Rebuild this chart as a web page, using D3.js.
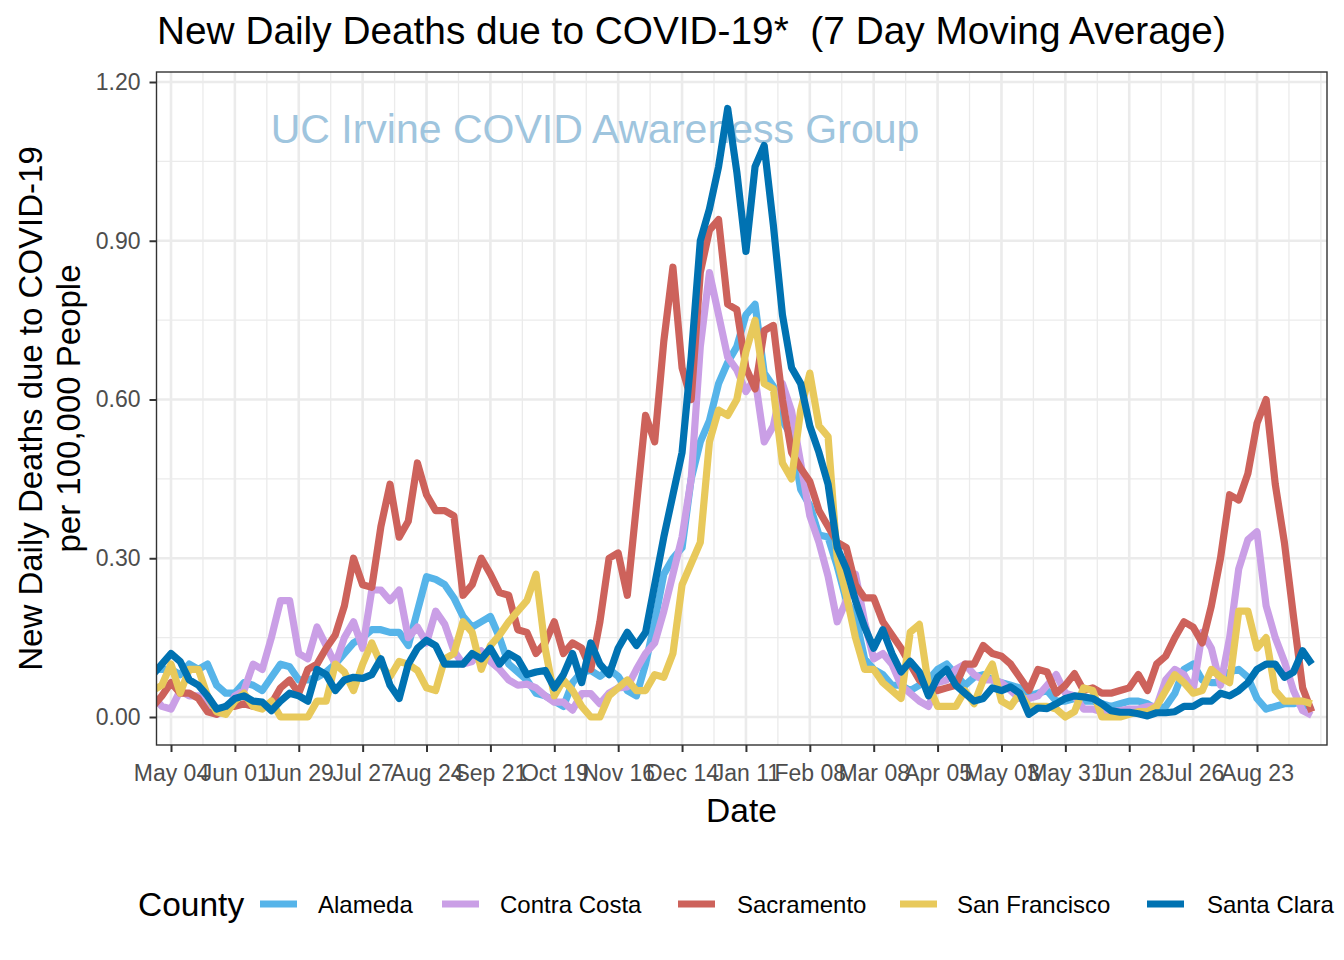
<!DOCTYPE html>
<html><head><meta charset="utf-8">
<script src="https://cdn.jsdelivr.net/npm/d3@7"></script>
<style>
body{margin:0;background:#fff}
svg{display:block}
text{font-family:"Liberation Sans",Arial,Helvetica,sans-serif}
</style>
</head><body>
<svg id="chart" width="1344" height="960"></svg>
<script>
// ---------------- data ----------------
const counties = ["Alameda","Contra Costa","Sacramento","San Francisco","Santa Clara"];
const countyColors = ["#56B4E9","#CA9FE6","#CD625B","#E8C95B","#0072B2"];
const firstDate = "2020-04-26";   // first sample
const stepDays = 4;               // samples every 4 days
const tickDates = ["2020-05-04","2020-06-01","2020-06-29","2020-07-27","2020-08-24","2020-09-21",
  "2020-10-19","2020-11-16","2020-12-14","2021-01-11","2021-02-08","2021-03-08","2021-04-05",
  "2021-05-03","2021-05-31","2021-06-28","2021-07-26","2021-08-23"];
const yTicks = [0, 0.3, 0.6, 0.9, 1.2];
const yMinor = [0.15, 0.45, 0.75, 1.05];

const alameda = [
0.09,0.09,0.09,0.08,0.1,0.09,0.1,0.06,0.045,0.045,
0.065,0.06,0.05,0.075,0.1,0.095,0.07,0.07,0.075,0.085,
0.1,0.12,0.14,0.15,0.165,0.165,0.16,0.16,0.135,0.2,
0.265,0.26,0.25,0.225,0.19,0.17,0.18,0.19,0.15,0.1,
0.085,0.07,0.045,0.04,0.03,0.02,0.065,0.085,0.088,0.077,
0.09,0.077,0.05,0.04,0.1,0.18,0.27,0.3,0.32,0.45,
0.52,0.56,0.63,0.67,0.7,0.76,0.78,0.65,0.625,0.56,
0.53,0.43,0.4,0.344,0.34,0.285,0.22,0.19,0.11,0.09,
0.08,0.06,0.06,0.05,0.06,0.07,0.09,0.1,0.08,0.06,
0.075,0.08,0.07,0.065,0.06,0.055,0.04,0.045,0.05,0.03,
0.03,0.035,0.03,0.03,0.025,0.02,0.025,0.03,0.03,0.025,
0.015,0.02,0.045,0.09,0.1,0.07,0.065,0.065,0.085,0.09,
0.075,0.035,0.015,0.02,0.025,0.025,0.03,0.013];

const contraCosta = [
0.04,0.02,0.015,0.05,0.04,0.04,0.02,0.005,0.01,0.04,
0.05,0.1,0.09,0.15,0.22,0.22,0.12,0.11,0.17,0.135,
0.1,0.15,0.18,0.13,0.24,0.24,0.22,0.24,0.15,0.17,
0.14,0.2,0.175,0.125,0.1,0.105,0.125,0.105,0.09,0.07,
0.06,0.062,0.055,0.04,0.028,0.028,0.013,0.044,0.044,0.025,
0.045,0.055,0.057,0.09,0.12,0.14,0.2,0.27,0.34,0.45,
0.7,0.84,0.76,0.68,0.656,0.615,0.64,0.52,0.55,0.63,
0.578,0.48,0.38,0.33,0.266,0.18,0.22,0.27,0.18,0.11,
0.12,0.1,0.06,0.045,0.03,0.02,0.065,0.07,0.09,0.1,
0.08,0.07,0.07,0.065,0.05,0.035,0.035,0.04,0.06,0.08,
0.045,0.04,0.015,0.015,0.01,0.01,0.012,0.015,0.015,0.02,
0.02,0.07,0.09,0.08,0.05,0.16,0.13,0.06,0.15,0.28,
0.335,0.35,0.21,0.15,0.105,0.05,0.012,0.003];

const sacramento = [
0.02,0.04,0.065,0.045,0.045,0.035,0.01,0.005,0.02,0.02,
0.025,0.02,0.02,0.025,0.055,0.07,0.045,0.09,0.1,0.13,
0.155,0.21,0.3,0.25,0.245,0.36,0.44,0.34,0.37,0.48,
0.42,0.39,0.39,0.38,0.23,0.25,0.3,0.27,0.235,0.23,
0.165,0.16,0.12,0.14,0.18,0.12,0.14,0.13,0.09,0.18,
0.3,0.31,0.23,0.4,0.57,0.52,0.71,0.85,0.66,0.6,
0.84,0.92,0.94,0.78,0.77,0.66,0.62,0.73,0.74,0.6,
0.5,0.47,0.445,0.39,0.36,0.33,0.32,0.25,0.225,0.225,
0.18,0.155,0.13,0.1,0.07,0.055,0.05,0.055,0.06,0.1,
0.1,0.135,0.12,0.115,0.1,0.075,0.05,0.09,0.085,0.045,
0.06,0.082,0.05,0.055,0.045,0.045,0.05,0.055,0.08,0.05,
0.1,0.115,0.15,0.18,0.17,0.14,0.21,0.3,0.42,0.41,
0.46,0.555,0.6,0.44,0.33,0.19,0.055,0.01];

const sanFrancisco = [
0.05,0.06,0.1,0.045,0.09,0.09,0.04,0.01,0.005,0.03,
0.045,0.02,0.015,0.03,0.0,0.0,0.0,0.0,0.03,0.03,
0.1,0.085,0.05,0.1,0.14,0.1,0.076,0.105,0.1,0.088,
0.055,0.05,0.11,0.12,0.18,0.16,0.09,0.135,0.155,0.18,
0.2,0.22,0.27,0.13,0.04,0.07,0.05,0.02,0.0,0.0,
0.04,0.055,0.07,0.05,0.05,0.08,0.075,0.12,0.25,0.29,
0.33,0.52,0.58,0.57,0.6,0.69,0.75,0.63,0.62,0.48,
0.45,0.58,0.65,0.55,0.53,0.3,0.23,0.15,0.09,0.09,
0.065,0.05,0.035,0.16,0.175,0.06,0.02,0.02,0.02,0.05,
0.025,0.07,0.1,0.03,0.02,0.045,0.02,0.02,0.02,0.015,
0.0,0.01,0.055,0.05,0.0,0.0,0.0,0.005,0.01,0.01,
0.02,0.05,0.08,0.065,0.045,0.05,0.09,0.075,0.065,0.2,
0.2,0.13,0.15,0.05,0.03,0.03,0.03,0.025];

const santaClara = [
0.08,0.1,0.12,0.105,0.07,0.06,0.04,0.015,0.02,0.035,
0.04,0.03,0.028,0.012,0.03,0.045,0.04,0.03,0.09,0.08,
0.05,0.07,0.075,0.073,0.08,0.11,0.06,0.035,0.1,0.13,
0.145,0.135,0.1,0.1,0.1,0.12,0.11,0.13,0.1,0.12,
0.11,0.08,0.085,0.088,0.055,0.08,0.12,0.065,0.14,0.1,
0.08,0.13,0.16,0.135,0.16,0.25,0.34,0.42,0.5,0.68,
0.9,0.96,1.04,1.15,1.03,0.88,1.04,1.08,0.93,0.76,
0.66,0.63,0.55,0.5,0.44,0.32,0.28,0.22,0.17,0.13,
0.165,0.12,0.085,0.105,0.085,0.04,0.075,0.09,0.06,0.045,
0.03,0.035,0.055,0.05,0.057,0.045,0.005,0.017,0.016,0.025,
0.035,0.04,0.038,0.035,0.025,0.012,0.009,0.009,0.006,0.002,
0.008,0.008,0.01,0.02,0.02,0.03,0.03,0.045,0.04,0.05,
0.065,0.09,0.1,0.1,0.075,0.085,0.125,0.1];

const seriesValues = [alameda, contraCosta, sacramento, sanFrancisco, santaClara];

// ---------------- layout ----------------
const svg = d3.select("#chart");
const P = {l:156.5, r:1327, t:72, b:745};
const parse = d3.utcParse("%Y-%m-%d");
const ticks = tickDates.map(parse);
const start = parse(firstDate);
const dates = alameda.map((_, i) => d3.utcDay.offset(start, i * stepDays));

const x = d3.scaleUtc().domain([ticks[0], ticks[ticks.length-1]]).range([171, 1257]);
const y = d3.scaleLinear().domain([0, 1.2]).range([717, 82]);

svg.append("rect").attr("width",1344).attr("height",960).attr("fill","#fff");

svg.append("defs").append("clipPath").attr("id","clip")
  .append("rect").attr("x",P.l).attr("y",P.t).attr("width",P.r-P.l).attr("height",P.b-P.t);

const grid = svg.append("g").attr("clip-path","url(#clip)");
const minorX = [d3.utcDay.offset(ticks[0], -14)].concat(ticks.map(t => d3.utcDay.offset(t, 14)))
  .concat([d3.utcDay.offset(ticks[ticks.length-1], 28)]);
grid.selectAll(".mx").data(minorX).join("line")
  .attr("x1",d=>x(d)).attr("x2",d=>x(d)).attr("y1",P.t).attr("y2",P.b)
  .attr("stroke","#EBEBEB").attr("stroke-width",1.3);
grid.selectAll(".my").data(yMinor).join("line")
  .attr("x1",P.l).attr("x2",P.r).attr("y1",d=>y(d)).attr("y2",d=>y(d))
  .attr("stroke","#EBEBEB").attr("stroke-width",1.3);
grid.selectAll(".Mx").data(ticks).join("line")
  .attr("x1",d=>x(d)).attr("x2",d=>x(d)).attr("y1",P.t).attr("y2",P.b)
  .attr("stroke","#EBEBEB").attr("stroke-width",2.6);
grid.selectAll(".My").data(yTicks).join("line")
  .attr("x1",P.l).attr("x2",P.r).attr("y1",d=>y(d)).attr("y2",d=>y(d))
  .attr("stroke","#EBEBEB").attr("stroke-width",2.6);

// watermark
svg.append("text").attr("x",595).attr("y",143).attr("text-anchor","middle")
  .attr("font-size",41).attr("fill","#9FC5DE").text("UC Irvine COVID Awareness Group");

// lines
const line = d3.line().x((d,i)=>x(dates[i])).y(d=>y(d));
const lines = svg.append("g").attr("clip-path","url(#clip)");
seriesValues.forEach((vals, s) => {
  lines.append("path").attr("d", line(vals)).attr("fill","none")
    .attr("stroke", countyColors[s]).attr("stroke-width",7.2)
    .attr("stroke-linejoin","round").attr("stroke-linecap","butt");
});

// panel border
svg.append("rect").attr("x",P.l).attr("y",P.t).attr("width",P.r-P.l).attr("height",P.b-P.t)
  .attr("fill","none").attr("stroke","#333333").attr("stroke-width",1.4);

// x axis
const xAxis = svg.append("g").attr("transform",`translate(0,${P.b})`)
  .call(d3.axisBottom(x).tickValues(ticks).tickFormat(d3.utcFormat("%b %d")).tickSize(7).tickPadding(13));
xAxis.select(".domain").remove();
xAxis.selectAll("line").attr("stroke","#333333").attr("stroke-width",2);
xAxis.selectAll("text").attr("font-size",23).attr("fill","#4D4D4D")
  .style("font-family","'Liberation Sans',Arial,sans-serif");

// y axis
const yAxis = svg.append("g").attr("transform",`translate(${P.l},0)`)
  .call(d3.axisLeft(y).tickValues(yTicks).tickFormat(d3.format(".2f")).tickSize(7).tickPadding(9));
yAxis.select(".domain").remove();
yAxis.selectAll("line").attr("stroke","#333333").attr("stroke-width",2);
yAxis.selectAll("text").attr("font-size",23).attr("fill","#4D4D4D")
  .style("font-family","'Liberation Sans',Arial,sans-serif");

// titles
svg.append("text").attr("x",157).attr("y",44).attr("font-size",38.8).attr("fill","#000")
  .attr("xml:space","preserve").style("white-space","pre")
  .text("New Daily Deaths due to COVID-19*  (7 Day Moving Average)");
svg.append("text").attr("x",741.5).attr("y",822).attr("text-anchor","middle")
  .attr("font-size",33.5).attr("fill","#000").text("Date");
const yt = svg.append("g").attr("transform","translate(0,408.5) rotate(-90)");
yt.append("text").attr("x",0).attr("y",42).attr("text-anchor","middle").attr("font-size",33)
  .text("New Daily Deaths due to COVID-19");
yt.append("text").attr("x",0).attr("y",80).attr("text-anchor","middle").attr("font-size",33)
  .text("per 100,000 People");

// legend
const lg = svg.append("g");
lg.append("text").attr("x",138).attr("y",916).attr("font-size",33.5).text("County");
const keyX = [260, 442, 678, 900, 1147];
const labX = [318, 500, 737, 957, 1207];
counties.forEach((c, i) => {
  lg.append("line").attr("x1",keyX[i]).attr("x2",keyX[i]+37).attr("y1",904).attr("y2",904)
    .attr("stroke",countyColors[i]).attr("stroke-width",7);
  lg.append("text").attr("x",labX[i]).attr("y",912.5).attr("font-size",24).text(c);
});
</script>
</body></html>
